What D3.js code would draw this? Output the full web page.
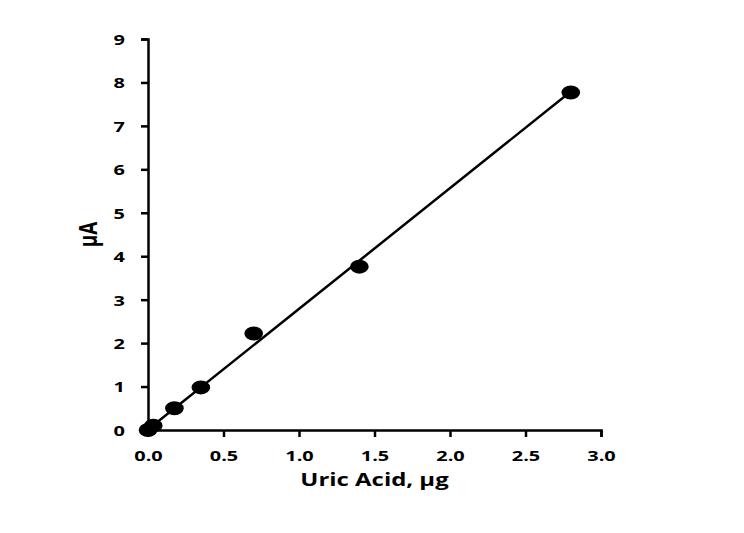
<!DOCTYPE html>
<html>
<head>
<meta charset="utf-8">
<script src="https://cdn.jsdelivr.net/npm/d3@7"></script>
<style>
  html, body { margin: 0; padding: 0; background: #fff; }
  svg { display: block; }
</style>
</head>
<body>
<svg id="chart" width="744" height="533"></svg>
<script>
// Data
const uricAcid = [0, 0.035, 0.175, 0.35, 0.7, 1.4, 2.8];
const current  = [0.0, 0.1, 0.5, 0.98, 2.22, 3.76, 7.77];
const fitX = [0, 2.8];
const fitY = [0.01, 7.79];
const xTicks = [0, 0.5, 1.0, 1.5, 2.0, 2.5, 3.0];
const yTicks = [0, 1, 2, 3, 4, 5, 6, 7, 8, 9];
const xTitle = "Uric Acid, µg";
const yTitle = "µA";

const SX = 1.33; // horizontal stretch of the reference image
const font = "'Open Sans', 'DejaVu Sans', sans-serif";

const svg = d3.select("#chart");
const x = d3.scaleLinear().domain([0, 3]).range([148, 601]);
const y = d3.scaleLinear().domain([0, 9]).range([430, 39]);

// X axis
const gx = svg.append("g").attr("transform", `translate(0,${y(0)})`)
  .call(d3.axisBottom(x).tickValues(xTicks).tickSize(7).tickSizeOuter(7)
        .tickFormat(d3.format(".1f")));
gx.select(".domain").attr("stroke", "#000").attr("stroke-width", 2.5);
gx.selectAll(".tick line").attr("stroke", "#000").attr("stroke-width", 2.5);
gx.selectAll(".tick text")
  .attr("y", 20).attr("dy", "0.71em")
  .attr("transform", `scale(${SX},1)`)
  .attr("font-family", font).attr("font-weight", "bold")
  .attr("font-size", 15).attr("fill", "#000");

// Y axis
const gy = svg.append("g").attr("transform", `translate(${x(0)},0)`)
  .call(d3.axisLeft(y).tickValues(yTicks).tickSize(7).tickSizeOuter(7)
        .tickFormat(d3.format("d")));
gy.select(".domain").attr("stroke", "#000").attr("stroke-width", 2.5);
gy.selectAll(".tick line").attr("stroke", "#000").attr("stroke-width", 2.5);
gy.selectAll(".tick text")
  .attr("x", -23 / SX).attr("dy", "0.36em")
  .attr("transform", `scale(${SX},1)`)
  .attr("font-family", font).attr("font-weight", "bold")
  .attr("font-size", 15).attr("fill", "#000");
svg.selectAll(".domain").attr("fill", "none");

// Titles
svg.append("text")
  .attr("transform", `translate(${(x(0) + x(3)) / 2},486) scale(${SX},1)`)
  .attr("text-anchor", "middle")
  .attr("font-family", font).attr("font-weight", "bold")
  .attr("font-size", 18).attr("fill", "#000")
  .text(xTitle);

svg.append("text")
  .attr("transform", `translate(97,${(y(0) + y(9)) / 2}) scale(${SX},1) rotate(-90)`)
  .attr("text-anchor", "middle")
  .attr("font-family", font).attr("font-weight", "bold")
  .attr("font-size", 19).attr("fill", "#000")
  .text(yTitle);

// Fit line
const line = d3.line().x(d => x(d[0])).y(d => y(d[1]));
svg.append("path")
  .datum(d3.zip(fitX, fitY))
  .attr("d", line)
  .attr("fill", "none").attr("stroke", "#000").attr("stroke-width", 2.5);

// Points
svg.append("g").selectAll("ellipse")
  .data(d3.zip(uricAcid, current))
  .join("ellipse")
  .attr("cx", d => x(d[0])).attr("cy", d => y(d[1]))
  .attr("rx", 9.3).attr("ry", 7)
  .attr("fill", "#000");
</script>
</body>
</html>
